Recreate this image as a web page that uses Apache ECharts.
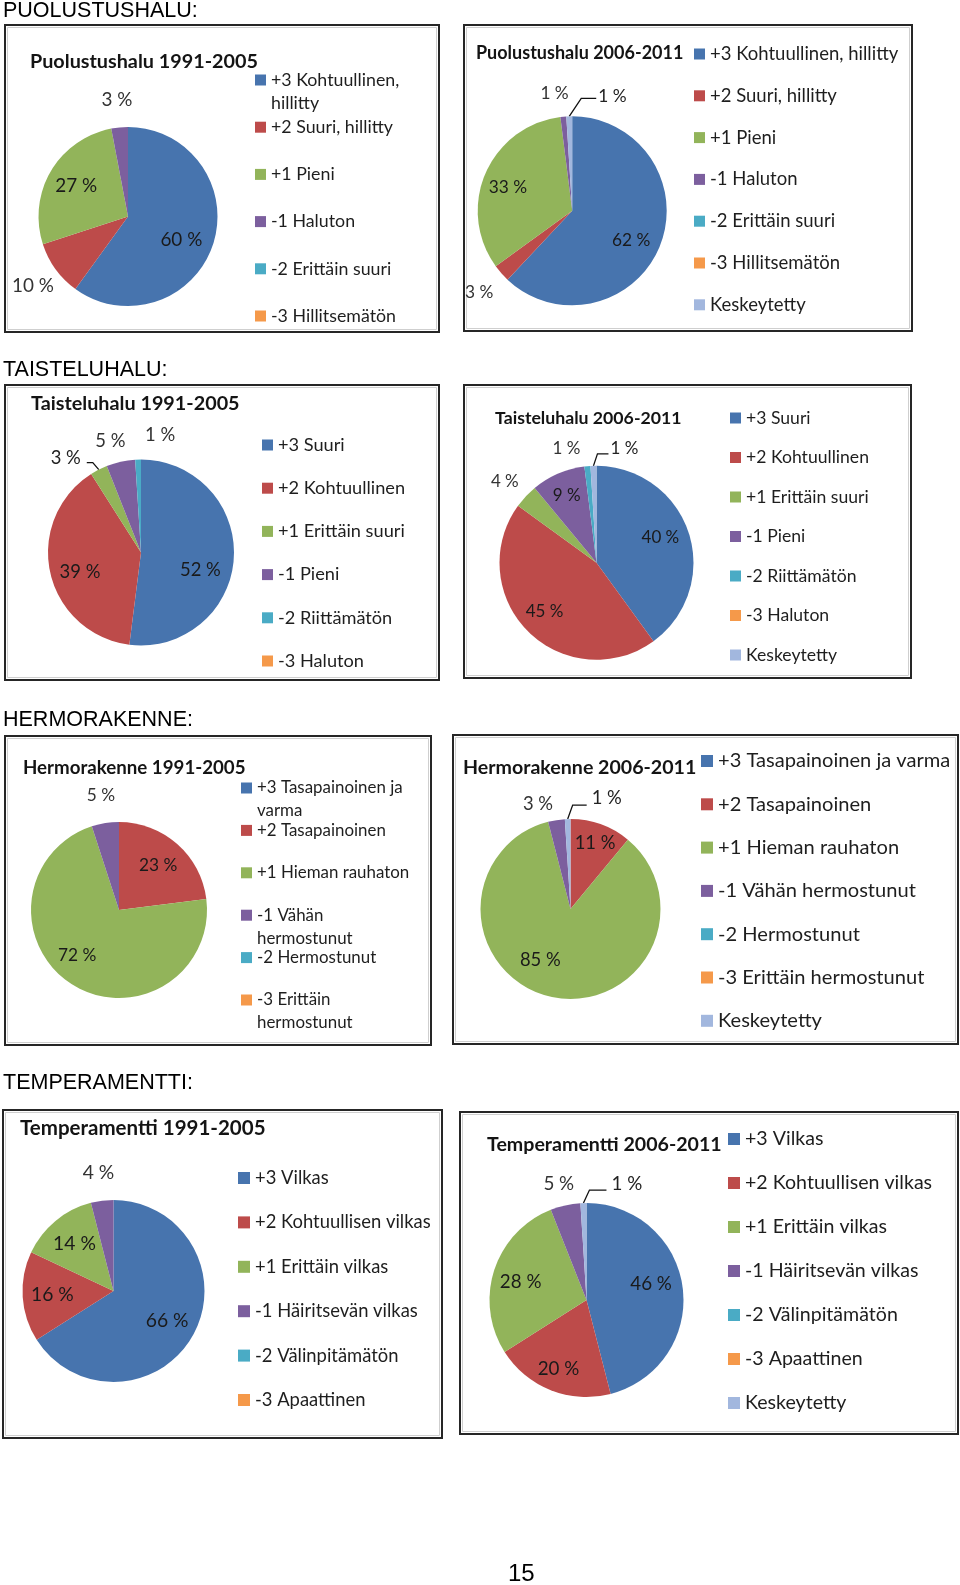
<!DOCTYPE html>
<html>
<head>
<meta charset="utf-8">
<script src="https://cdn.jsdelivr.net/npm/echarts@6/dist/echarts.min.js"></script>
<style>
html,body{margin:0;padding:0;background:#fff;}
#main{width:960px;height:1585px;}
</style>
</head>
<body>
<div id="main"></div>
<script>
// ---------------- DATA ----------------
const sectionHeadings = ['PUOLUSTUSHALU:', 'TAISTELUHALU:', 'HERMORAKENNE:', 'TEMPERAMENTTI:'];
const pageNumber = '15';

const puolustusCats = ['+3 Kohtuullinen, hillitty', '+2 Suuri, hillitty', '+1 Pieni', '-1 Haluton', '-2 Erittäin suuri', '-3 Hillitsemätön'];
const puolustusCats2 = puolustusCats.concat(['Keskeytetty']);
const puolustus1991 = [60, 10, 27, 3, 0, 0];
const puolustus2006 = [62, 3, 33, 1, 0, 0, 1];

const taisteluCats = ['+3 Suuri', '+2 Kohtuullinen', '+1 Erittäin suuri', '-1 Pieni', '-2 Riittämätön', '-3 Haluton'];
const taisteluCats2 = taisteluCats.concat(['Keskeytetty']);
const taistelu1991 = [52, 39, 3, 5, 1, 0];
const taistelu2006 = [40, 45, 4, 9, 1, 0, 1];

const hermoCats = ['+3 Tasapainoinen ja varma', '+2 Tasapainoinen', '+1 Hieman rauhaton', '-1 Vähän hermostunut', '-2 Hermostunut', '-3 Erittäin hermostunut'];
const hermoCats2 = hermoCats.concat(['Keskeytetty']);
const hermo1991 = [0, 23, 72, 5, 0, 0];
const hermo2006 = [0, 11, 85, 3, 0, 0, 1];

const tempCats = ['+3 Vilkas', '+2 Kohtuullisen vilkas', '+1 Erittäin vilkas', '-1 Häiritsevän vilkas', '-2 Välinpitämätön', '-3 Apaattinen'];
const tempCats2 = tempCats.concat(['Keskeytetty']);
const temp1991 = [66, 16, 14, 4, 0, 0];
const temp2006 = [46, 20, 28, 5, 0, 0, 1];

const chartTitles = ['Puolustushalu 1991-2005', 'Puolustushalu 2006-2011', 'Taisteluhalu 1991-2005', 'Taisteluhalu 2006-2011',
  'Hermorakenne 1991-2005', 'Hermorakenne 2006-2011', 'Temperamentti 1991-2005', 'Temperamentti 2006-2011'];

// ---------------- STYLE / LAYOUT ----------------
const COLORS = ['#4774ae', '#bd4b4a', '#92b45a', '#7c5f9e', '#4aabc5', '#f5994a', '#a2b7de'];
const FONT = 'Lato, "Open Sans", sans-serif';
const HFONT = '"Liberation Sans", Arial, sans-serif';

const panels = [
  { cats: puolustusCats, vals: puolustus1991, box: [5, 25, 439, 332], tx: 30, ty: 62, tw: 228,
    cx: 128, cy: 216.5, r: 89.5, inner: [0, 2], outer: [1, 3], nudge: {0: [-4, 5]}, leader: null,
    lx: 255, ly: 80, lgap: 47.2, icon: 11, lref: 1, lrefW: 122, wrap: [0], labRef: 0, labW: 42 },
  { cats: puolustusCats2, vals: puolustus2006, box: [464, 25, 912, 331], tx: 476, ty: 53, tw: 207,
    cx: 572.2, cy: 210.8, r: 94.5, inner: [0, 2], outer: [1, 3], nudge: {0: [0, 6], 2: [-6, 2], 3: [-6, 6]},
    leader: {idx: 6, bend: [12, -18], end: [27, -18], lab: [2, -2], align: 'left'},
    lx: 694, ly: 54, lgap: 41.8, icon: 11, lref: 0, lrefW: 188, wrap: [], labRef: 0, labW: 38.3 },
  { cats: taisteluCats, vals: taistelu1991, box: [5, 385, 439, 680], tx: 31, ty: 404, tw: 209,
    cx: 141, cy: 552.5, r: 93, inner: [0, 1], outer: [3, 4], nudge: {0: [-3, 14], 1: [0, 6], 3: [-4, 8], 4: [23, 5]},
    leader: {idx: 2, bend: [-6, -7], end: [-12, -7], lab: [-6, -4.5], align: 'right'},
    lx: 262, ly: 445, lgap: 43.2, icon: 11, lref: 2, lrefW: 127, wrap: [], labRef: 0, labW: 40.7 },
  { cats: taisteluCats2, vals: taistelu2006, box: [464, 385, 911, 678], tx: 495, ty: 418, tw: 187,
    cx: 596.5, cy: 562.8, r: 97, inner: [0, 1, 3], outer: [2, 4], nudge: {0: [2, -5], 1: [-6, 3], 2: [1, 6], 3: [-4, -8], 4: [-18, 12]},
    leader: {idx: 6, bend: [4, -12], end: [15, -12], lab: [2, -5], align: 'left'},
    lx: 730, ly: 418, lgap: 39.5, icon: 11, lref: 1, lrefW: 123, wrap: [], labRef: 0, labW: 37.7 },
  { cats: hermoCats, vals: hermo1991, box: [5, 736, 431, 1045], tx: 23, ty: 768, tw: 223,
    cx: 119, cy: 910, r: 88, inner: [1, 2], outer: [3], nudge: {2: [-10, -5]}, leader: null,
    lx: 241, ly: 788, lgap: 42.4, icon: 11, lref: 2, lrefW: 152, wrap: [0, 3, 5], labRef: 2, labW: 38.3 },
  { cats: hermoCats2, vals: hermo2006, box: [453, 735, 958, 1044], tx: 463, ty: 768, tw: 233,
    cx: 570.5, cy: 909, r: 90, inner: [1, 2], outer: [3], nudge: {1: [4, -9], 2: [-17, -8], 3: [-14, 12]},
    leader: {idx: 6, bend: [5, -14], end: [19, -14], lab: [5, -7], align: 'left'},
    lx: 701, ly: 761, lgap: 43.3, icon: 12, lref: 0, lrefW: 232, wrap: [], labRef: 2, labW: 40.7 },
  { cats: tempCats, vals: temp1991, box: [3, 1110, 442, 1438], tx: 20, ty: 1128, tw: 245,
    cx: 113.5, cy: 1291, r: 91, inner: [0, 1, 2], outer: [3], nudge: {}, leader: null,
    lx: 238, ly: 1178, lgap: 44.4, icon: 12, lref: 3, lrefW: 163, wrap: [], labRef: 0, labW: 42.7 },
  { cats: tempCats2, vals: temp2006, box: [460, 1112, 958, 1434], tx: 487, ty: 1145, tw: 235,
    cx: 586.5, cy: 1300, r: 97, inner: [0, 1, 2], outer: [3], nudge: {0: [0, -8], 1: [-4, 8], 2: [-4, 2], 3: [0, 8]},
    leader: {idx: 6, bend: [6, -13], end: [23, -13], lab: [5, -6], align: 'left'},
    lx: 728, ly: 1139, lgap: 44, icon: 12, lref: 1, lrefW: 187, wrap: [], labRef: 0, labW: 41.7 }
];

const headingPos = [[3, 11], [3, 370], [3, 720], [3, 1083]];
const headingW = [194, 165, 189.4, 189.4];

// ---------------- HELPERS ----------------
const mctx = document.createElement('canvas').getContext('2d');
function fitFont(text, width, weight, family) {
  mctx.font = (weight || 'normal') + ' 100px ' + family;
  return Math.round(1000 * width / mctx.measureText(text).width) / 10;
}
// two-line legend entry whose first line sits level with the legend square:
// an empty leading line makes the first real line the middle of a 3-line block
function wrapLast(n) { const k = n.lastIndexOf(' '); return '\n' + n.slice(0, k) + '\n' + n.slice(k + 1); }

const titles = [];
const legends = [];
const series = [];
const graphics = [];

// section headings
let hs = 0;
sectionHeadings.forEach((h, i) => { hs += fitFont(h, headingW[i], 'normal', HFONT); });
hs = Math.round(hs / sectionHeadings.length * 10) / 10;
sectionHeadings.forEach((h, i) => {
  const lh = Math.round(hs * 1.15);
  titles.push({ text: h, left: headingPos[i][0], top: headingPos[i][1] - lh / 2, padding: 0,
    textStyle: { fontFamily: HFONT, fontWeight: 'normal', fontSize: hs, lineHeight: lh, color: '#000' } });
});
titles.push({ text: pageNumber, left: 508, top: 1574 - 14, padding: 0,
  textStyle: { fontFamily: HFONT, fontWeight: 'normal', fontSize: 24, lineHeight: 28, color: '#000' } });

panels.forEach((p, pi) => {
  const b = p.box;
  graphics.push({ type: 'rect', silent: true, shape: { x: b[0], y: b[1], width: b[2] - b[0], height: b[3] - b[1] },
    style: { fill: 'none', stroke: '#262626', lineWidth: 2 } });
  graphics.push({ type: 'rect', silent: true, shape: { x: b[0] + 2.5, y: b[1] + 2.5, width: b[2] - b[0] - 5, height: b[3] - b[1] - 5 },
    style: { fill: 'none', stroke: '#cfcfcf', lineWidth: 1 } });

  // title
  const ts = fitFont(chartTitles[pi], p.tw, 'bold', FONT);
  const tlh = Math.round(ts * 1.2);
  titles.push({ text: chartTitles[pi], left: p.tx, top: p.ty - tlh / 2, padding: 0,
    textStyle: { fontFamily: FONT, fontWeight: 'bold', fontSize: ts, lineHeight: tlh, color: '#141414' } });

  // legend
  const lfs = fitFont(p.cats[p.lref], p.lrefW, 'normal', FONT);
  const L = p.wrap.length ? 23 : Math.round(lfs * 1.25);
  p.cats.forEach((name, i) => {
    const w = p.wrap.indexOf(i) >= 0;
    const textH = w ? 3 * L : L;
    const Y = p.ly + i * p.lgap;
    legends.push({
      data: [name], orient: 'vertical', left: p.lx, top: Y - textH / 2, padding: 0,
      itemWidth: p.icon, itemHeight: p.icon, itemGap: 0, icon: 'rect', selectedMode: false,
      formatter: w ? wrapLast : '{name}',
      textStyle: { fontFamily: FONT, fontSize: lfs, color: '#1e1e1e', lineHeight: L }
    });
  });

  // labels
  const lab = fitFont(p.vals[p.labRef] + ' %', p.labW, 'normal', FONT);
  const leader = p.leader;

  series.push({
    type: 'pie', center: [p.cx, p.cy], radius: [0, p.r], startAngle: 90, clockwise: true,
    silent: true, avoidLabelOverlap: false, animation: false,
    data: p.vals.map((v, i) => ({
      name: p.cats[i], value: v, itemStyle: { color: COLORS[i] },
      label: { show: !!(leader && leader.idx === i) },
      labelLine: { show: !!(leader && leader.idx === i) }
    })),
    label: { show: false, position: 'outside', formatter: '{c} %', fontFamily: FONT, fontSize: lab, color: '#222' },
    labelLine: { show: false, length: 10, length2: 10, smooth: false, lineStyle: { color: '#111', width: 1.3 } },
    labelLayout: function (params) {
      if (!leader || params.dataIndex !== leader.idx) return {};
      const pts = params.labelLinePoints;
      if (!pts || !pts.length) return {};
      const p0 = pts[0];
      const bp = [p0[0] + leader.bend[0], p0[1] + leader.bend[1]];
      const ep = [p0[0] + leader.end[0], p0[1] + leader.end[1]];
      return { x: ep[0] + leader.lab[0], y: bp[1] + leader.lab[1], align: leader.align, verticalAlign: 'middle',
        labelLinePoints: [p0, bp, ep] };
    }
  });

  const nudgeFn = function (params) {
    const n = p.nudge[params.dataIndex];
    return n ? { dx: n[0], dy: n[1] } : {};
  };
  // inside labels
  series.push({
    type: 'pie', center: [p.cx, p.cy], radius: [p.r * 0.28, p.r], startAngle: 90, clockwise: true,
    silent: true, avoidLabelOverlap: false, animation: false,
    itemStyle: { color: 'rgba(0,0,0,0)' },
    data: p.vals.map((v, i) => ({ name: p.cats[i], value: v, itemStyle: { color: 'rgba(0,0,0,0)' },
      label: { show: p.inner.indexOf(i) >= 0 && v > 0 } })),
    label: { position: 'inside', rotate: 0, formatter: '{c} %', fontFamily: FONT, fontSize: lab, color: '#1a1a1a' },
    labelLine: { show: false },
    labelLayout: nudgeFn
  });
  // outside labels
  series.push({
    type: 'pie', center: [p.cx, p.cy], radius: [p.r * 1.16, p.r * 1.40], startAngle: 90, clockwise: true,
    silent: true, avoidLabelOverlap: false, animation: false,
    itemStyle: { color: 'rgba(0,0,0,0)' },
    data: p.vals.map((v, i) => ({ name: p.cats[i], value: v, itemStyle: { color: 'rgba(0,0,0,0)' },
      label: { show: p.outer.indexOf(i) >= 0 && v > 0 } })),
    label: { position: 'inside', rotate: 0, formatter: '{c} %', fontFamily: FONT, fontSize: lab, color: '#333' },
    labelLine: { show: false },
    labelLayout: nudgeFn
  });
});

const chart = echarts.init(document.getElementById('main'), null, { renderer: 'canvas' });
chart.setOption({
  backgroundColor: '#ffffff',
  animation: false,
  title: titles,
  legend: legends,
  series: series,
  graphic: graphics
});
</script>
</body>
</html>
